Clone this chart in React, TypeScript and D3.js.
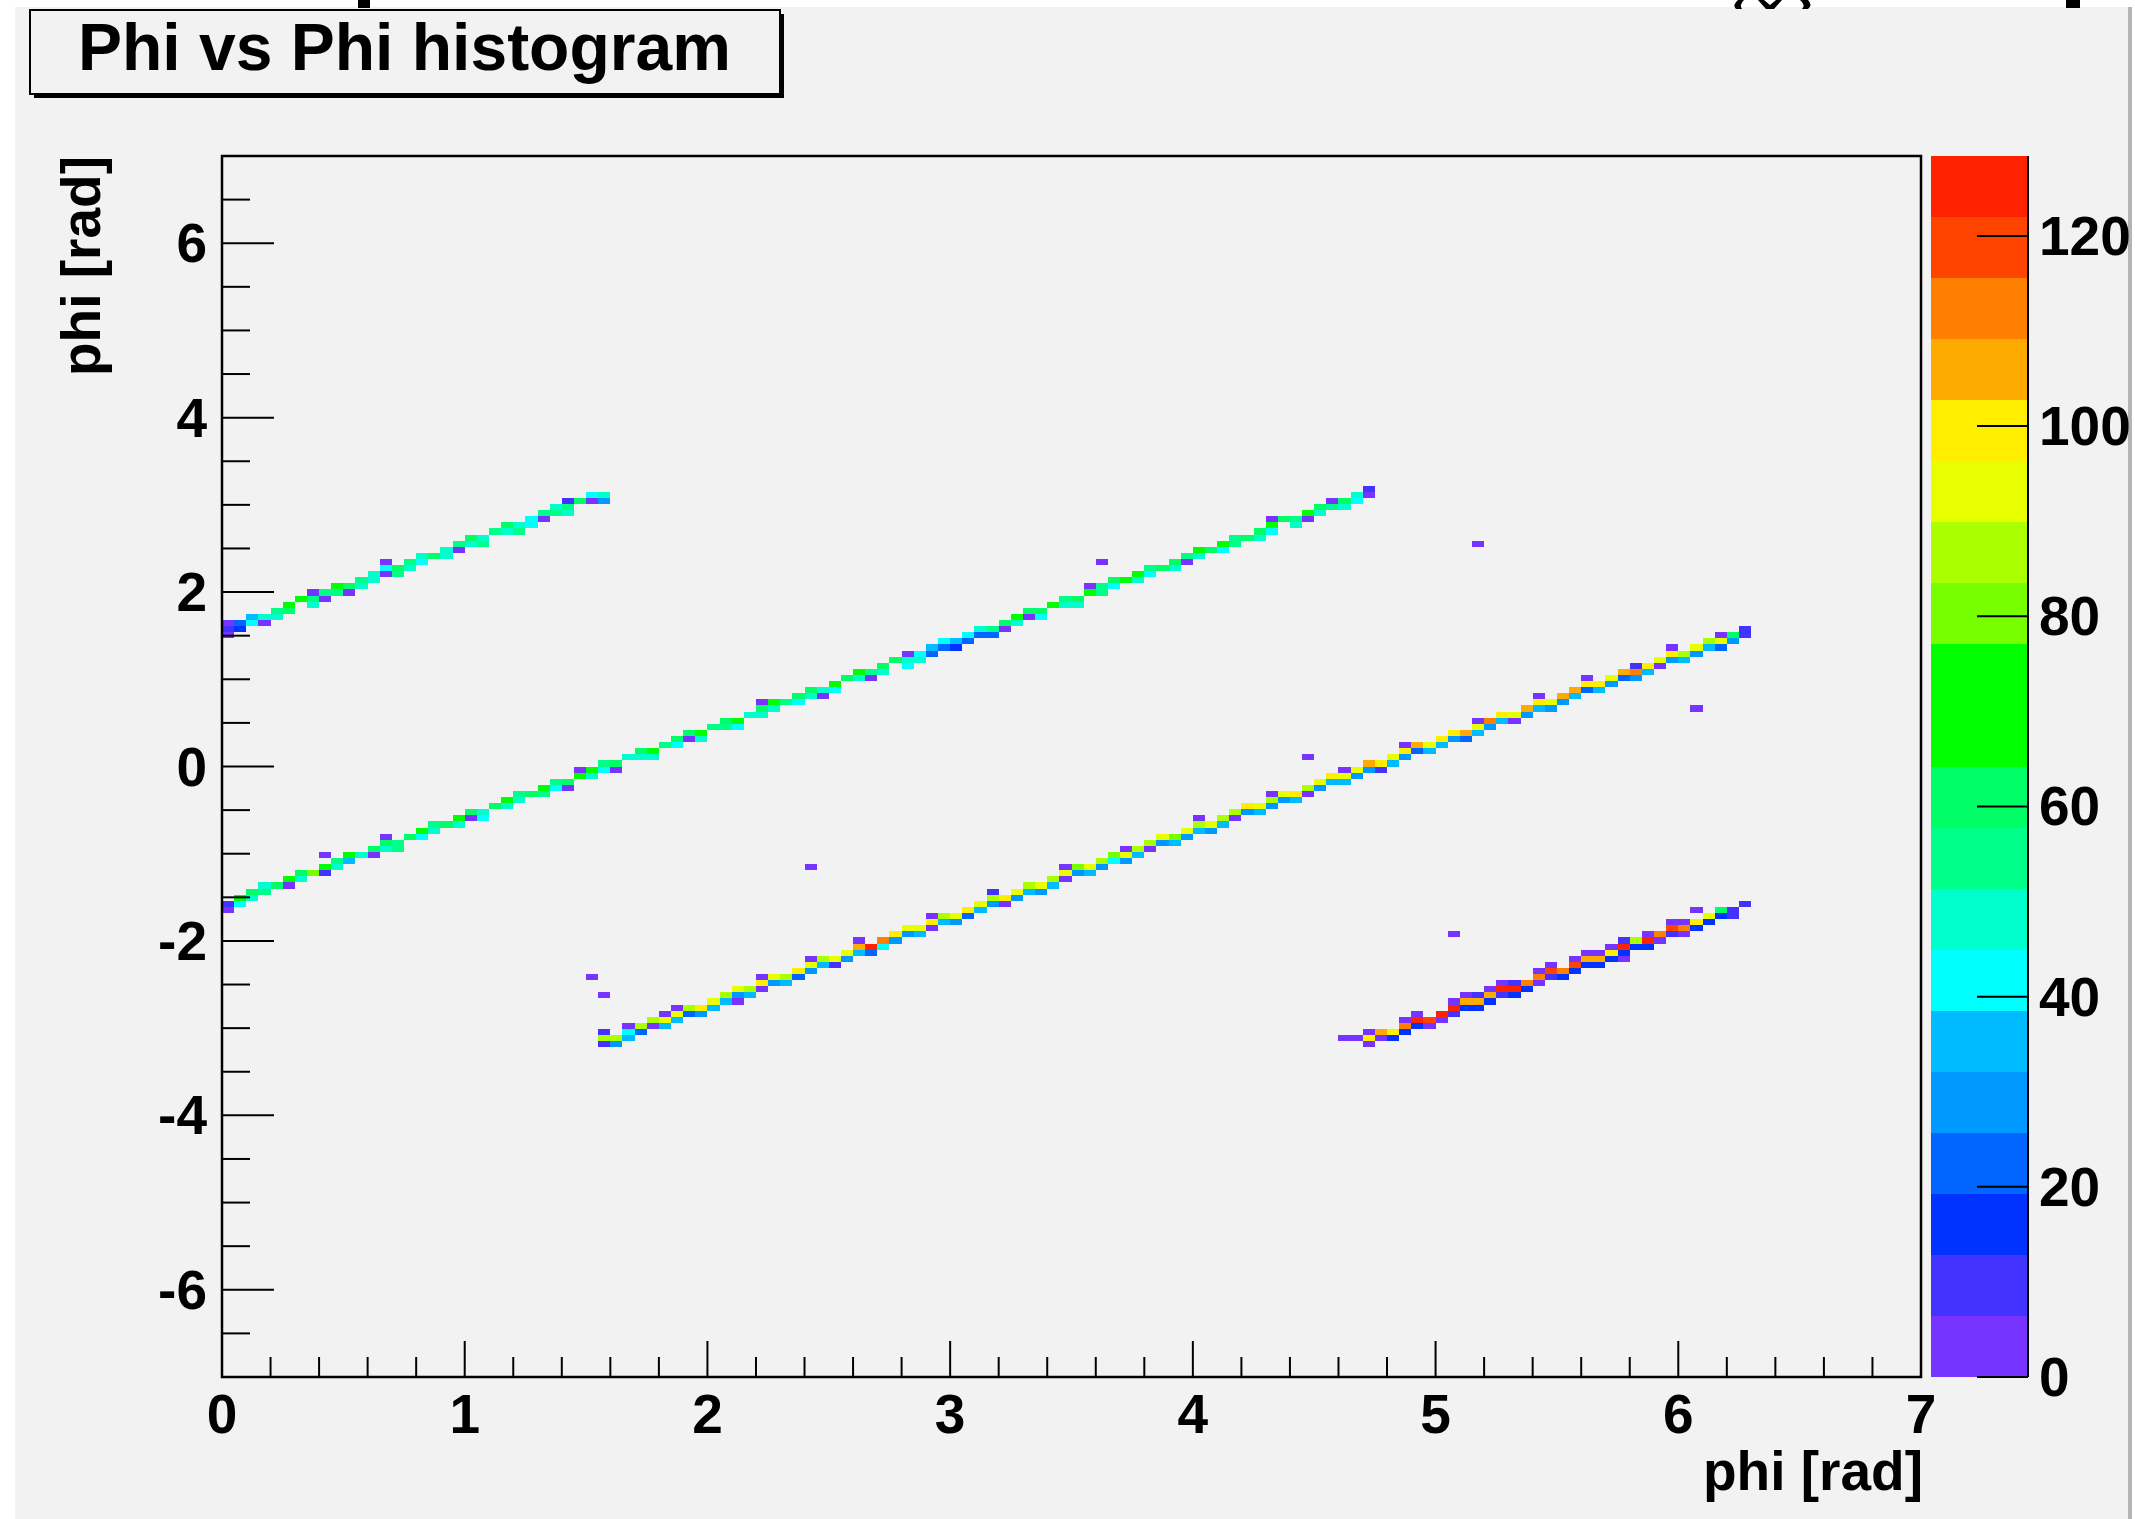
import React from "react";
import * as d3 from "d3";

// ---------- axes / binning ----------
const X_DOMAIN: [number, number] = [0, 7];
const Y_DOMAIN: [number, number] = [-7, 7];
const X_BIN = 0.05;
const Y_BIN = 0.07;
const Z_MAX = 128.4;
const N_LEVELS = 20;

const xTickLabels = [0, 1, 2, 3, 4, 5, 6, 7];
const yTickLabels = [-6, -4, -2, 0, 2, 4, 6];
const zTickLabels = [0, 20, 40, 60, 80, 100, 120];

const levelColors = [
  "#7733ff", "#4433ff", "#0033ff", "#0066ff", "#0099ff",
  "#00bbff", "#00ffff", "#00ffcc", "#00ff88", "#00ff66",
  "#00ff00", "#00ff00", "#77ff00", "#aaff00", "#e8ff00",
  "#ffee00", "#ffaa00", "#ff8000", "#ff4400", "#ff2200",
];

// ---------- band 1 : y = x + pi/2 ----------
const seg1StartCol = 0;
const seg1Offset = Math.PI / 2;
const seg1Main = [8, 22, 36, 48, 55, 66, 72, 56, 52, 68, 60, 55, 50, 42, 60, 55, 50, 58, 45, 52, 60, 47, 55, 62, 50, 44, 57, 48, 53, 60, 42, 46];
const seg1Below = [6, 14, 40, 4, 50, 58, 0, 48, 6, 55, 5, 50, 46, 4, 52, 48, 44, 0, 50, 6, 46, 52, 0, 48, 56, 40, 5, 52, 45, 0, 4, 30];
const seg1Above = [5, 0, 0, 0, 0, 0, 0, 5, 0, 0, 0, 0, 0, 5, 0, 0, 0, 0, 0, 0, 0, 0, 0, 0, 0, 0, 0, 0, 7, 0, 0, 0];

// ---------- band 2 : y = x - pi/2 ----------
const seg2StartCol = 0;
const seg2Offset = -Math.PI / 2;
const seg2Main = [
  9, 66, 58, 50, 60, 66, 58, 80, 70, 56,
  67, 50, 62, 64, 55, 63, 68, 52, 60, 66,
  58, 50, 64, 70, 55, 61, 67, 52, 59, 65,
  72, 57, 63, 49, 61, 68, 54, 63, 58, 70,
  52, 61, 66, 48, 60, 67, 55, 63, 58, 51,
  65, 60, 68, 53, 59, 63, 50, 44, 38, 42,
  36, 40, 45, 55, 61, 66, 58, 63, 69, 55,
  61, 67, 52, 60, 65, 70, 57, 63, 59, 52,
  66, 61, 68, 55, 63, 58, 67, 60, 52, 65,
  61, 56, 63, 50, 12,
];
const seg2Below = [
  6, 40, 48, 52, 0, 5, 45, 0, 7, 50,
  38, 0, 4, 46, 52, 0, 44, 50, 0, 48,
  6, 42, 0, 50, 46, 0, 52, 40, 5, 0,
  48, 44, 5, 0, 50, 46, 0, 42, 6, 48,
  0, 52, 44, 0, 46, 50, 0, 40, 48, 5,
  44, 0, 50, 4, 46, 0, 42, 48, 20, 24,
  18, 22, 20, 24, 5, 48, 6, 44, 0, 50,
  46, 0, 52, 40, 0, 48, 44, 0, 50, 5,
  46, 0, 42, 52, 0, 48, 44, 0, 50, 4,
  46, 0, 48, 40, 3,
];
const seg2Above = [
  0, 0, 0, 0, 0, 0, 0, 0, 0, 0,
  0, 0, 0, 5, 0, 0, 0, 0, 0, 0,
  0, 0, 0, 0, 0, 0, 0, 0, 0, 6,
  0, 0, 0, 0, 0, 0, 0, 0, 0, 0,
  0, 0, 0, 0, 4, 0, 0, 0, 0, 0,
  0, 0, 0, 0, 0, 0, 5, 0, 0, 0,
  0, 0, 0, 0, 0, 0, 0, 0, 0, 0,
  0, 6, 0, 0, 0, 0, 0, 0, 0, 0,
  0, 0, 0, 0, 0, 0, 5, 0, 0, 0,
  0, 6, 0, 0, 0,
];

// ---------- band 3 : y = x - 3pi/2 ----------
const seg3StartCol = 31;
const seg3Offset = -1.5 * Math.PI;
const seg3Main = [
  86, 84, 40, 84, 88, 96, 94, 85, 97, 92,
  88, 95, 84, 98, 90, 86, 100, 93, 88, 96,
  91, 104, 122, 110, 98, 96, 90, 99, 87, 94,
  100, 92, 86, 97, 90, 85, 94, 88, 96, 82,
  90, 86, 80, 92, 84, 88, 95, 82, 90, 86,
  93, 84, 88, 97, 90, 86, 92, 99, 88, 94,
  101, 95, 90, 104, 98, 92, 100, 106, 96, 102,
  98, 105, 94, 110, 100, 96, 106, 99, 92, 104,
  108, 97, 101, 94, 106, 112, 98, 92, 100, 88,
  95, 84, 90, 62, 12,
];
const seg3Below = [
  12, 30, 36, 24, 6, 36, 34, 22, 30, 38,
  34, 26, 36, 6, 30, 38, 24, 32, 36, 8,
  28, 36, 22, 40, 30, 26, 34, 5, 36, 30,
  24, 38, 32, 6, 30, 36, 28, 34, 5, 32,
  36, 30, 40, 28, 34, 6, 32, 38, 30, 36,
  28, 34, 5, 30, 38, 32, 26, 36, 6, 30,
  34, 38, 28, 32, 8, 36, 30, 24, 34, 38,
  30, 22, 36, 28, 34, 6, 32, 38, 26, 30,
  36, 24, 34, 30, 22, 28, 38, 6, 30, 34,
  28, 36, 24, 30, 8,
];
const seg3Above = [
  7, 0, 6, 0, 0, 5, 6, 0, 0, 0,
  0, 0, 0, 5, 0, 0, 0, 4, 0, 0,
  0, 6, 0, 0, 0, 0, 0, 5, 0, 0,
  0, 0, 7, 0, 0, 0, 0, 0, 4, 0,
  0, 0, 0, 5, 0, 0, 0, 0, 0, 6,
  0, 0, 0, 0, 0, 5, 0, 0, 0, 0,
  0, 6, 0, 0, 0, 0, 4, 0, 0, 0,
  0, 0, 5, 0, 0, 0, 0, 6, 0, 0,
  0, 5, 0, 0, 0, 7, 0, 0, 4, 0,
  0, 0, 5, 0, 0,
];

// ---------- band 4 : y = x - 5pi/2 ----------
const seg4StartCol = 94;
const seg4Offset = -2.5 * Math.PI;
const seg4Main = [100, 106, 100, 110, 124, 118, 126, 124, 108, 106, 108, 122, 124, 112, 110, 118, 114, 120, 106, 106, 98, 124, 86, 124, 110, 118, 112, 100, 92, 62, 12, 10];
const seg4Below = [5, 5, 16, 16, 16, 5, 5, 10, 14, 14, 16, 10, 14, 16, 6, 12, 14, 16, 14, 14, 16, 16, 14, 16, 6, 8, 5, 16, 14, 14, 8, 0];
const seg4Above = [6, 0, 0, 6, 5, 0, 0, 5, 6, 7, 5, 6, 8, 0, 5, 6, 0, 5, 5, 6, 5, 7, 0, 6, 0, 5, 6, 0, 0, 0, 0, 0];

// ---------- isolated cells (x, y, count) ----------
const isolatedX = [5.16, 6.06, 3.61, 4.47, 2.42, 1.53, 1.58, 0.41, 5.07, 5.76, 6.06, 4.63, 4.68, 2.1];
const isolatedY = [2.58, 0.68, 2.31, 0.11, -1.15, -2.42, -2.61, -0.98, -1.95, -2.2, -1.63, -3.12, -3.12, -2.7];
const isolatedN = [4, 3, 5, 5, 6, 4, 5, 4, 6, 5, 6, 3, 4, 5];

type Cell = { col: number; row: number; n: number };

function bandCells(start: number, offset: number, main: number[], below: number[], above: number[]): Cell[] {
  const out: Cell[] = [];
  main.forEach((n, i) => {
    const col = start + i;
    const xc = (col + 0.5) * X_BIN;
    const row = Math.floor((xc + offset - Y_DOMAIN[0]) / Y_BIN);
    const entries: [number, number][] = [
      [row, n],
      [row - 1, below[i] ?? 0],
      [row + 1, above[i] ?? 0],
    ];
    entries.forEach(([r, v]) => {
      if (v > 0) out.push({ col, row: r, n: v });
    });
  });
  return out;
}

const FONT = "'Liberation Sans', Arial, Helvetica, sans-serif";

export default function App() {
  const W = 2135;
  const H = 1519;
  const plot = { left: 222, right: 1921, top: 156, bottom: 1377 };
  const bar = { left: 1931, right: 2028 };

  const xScale = d3.scaleLinear().domain(X_DOMAIN).range([plot.left, plot.right]);
  const yScale = d3.scaleLinear().domain(Y_DOMAIN).range([plot.bottom, plot.top]);
  const zScale = d3.scaleLinear().domain([0, Z_MAX]).range([plot.bottom, plot.top]);
  const colorOf = (n: number) =>
    levelColors[Math.max(0, Math.min(N_LEVELS - 1, Math.floor(n / (Z_MAX / N_LEVELS))))];

  const cells: Cell[] = [
    ...bandCells(seg1StartCol, seg1Offset, seg1Main, seg1Below, seg1Above),
    ...bandCells(seg2StartCol, seg2Offset, seg2Main, seg2Below, seg2Above),
    ...bandCells(seg3StartCol, seg3Offset, seg3Main, seg3Below, seg3Above),
    ...bandCells(seg4StartCol, seg4Offset, seg4Main, seg4Below, seg4Above),
    ...isolatedX.map((x, i) => ({
      col: Math.floor(x / X_BIN),
      row: Math.floor((isolatedY[i] - Y_DOMAIN[0]) / Y_BIN),
      n: isolatedN[i],
    })),
  ];

  const xTicks = d3.range(0, 7.0001, 0.2).filter((v) => v > 0.001 && v < 6.999);
  const yTicks = d3.range(-7, 7.0001, 0.5).filter((v) => v > -6.999 && v < 6.999);
  const isMajorX = (v: number) => Math.abs(v - Math.round(v)) < 1e-6;
  const isMajorY = (v: number) => Math.abs(v / 2 - Math.round(v / 2)) < 1e-6;
  const levels = d3.range(N_LEVELS + 1).map((i) => (i * Z_MAX) / N_LEVELS);

  return (
    <div style={{ position: "absolute", left: 0, top: 0 }}>
      <svg width={W} height={H} viewBox={`0 0 ${W} ${H}`} style={{ display: "block" }}>
        <rect x={0} y={0} width={W} height={H} fill="#ffffff" />
        <rect x={15} y={7} width={2113} height={H - 7} fill="#f2f2f2" />
        <rect x={2128} y={7} width={4} height={H - 7} fill="#b4b4b4" />

        {/* cut-off glyph fragments at the very top */}
        <g fill="#000">
          <rect x={358} y={0} width={12} height={8} />
          <path d="M1738,0 Q1732,5 1736,9 L1742,9 Q1739,5 1744,0 Z" />
          <path d="M1758,0 L1766,9 L1774,9 L1782,0 L1776,0 L1770,5 L1764,0 Z" />
          <path d="M1800,0 Q1806,5 1802,9 L1808,9 Q1813,5 1808,0 Z" />
          <rect x={2066} y={0} width={14} height={8} />
        </g>

        {/* title box */}
        <rect x={34} y={14} width={750} height={84} fill="#000" />
        <rect x={30} y={10} width={750} height={84} fill="#f2f2f2" stroke="#000" strokeWidth={2} />
        <text x={78} y={70} fontFamily={FONT} fontWeight="bold" fontSize={66} fill="#000">
          Phi vs Phi histogram
        </text>

        {/* histogram cells */}
        <g shapeRendering="crispEdges">
          {cells.map((c, i) => {
            const x0 = xScale(c.col * X_BIN);
            const x1 = xScale((c.col + 1) * X_BIN);
            const yTop = yScale(Y_DOMAIN[0] + (c.row + 1) * Y_BIN);
            const yBot = yScale(Y_DOMAIN[0] + c.row * Y_BIN);
            return <rect key={i} x={x0} y={yTop} width={x1 - x0} height={yBot - yTop} fill={colorOf(c.n)} />;
          })}
        </g>

        {/* frame */}
        <rect
          x={plot.left}
          y={plot.top}
          width={plot.right - plot.left}
          height={plot.bottom - plot.top}
          fill="none"
          stroke="#000"
          strokeWidth={2.5}
        />

        {/* ticks */}
        <g stroke="#000" strokeWidth={2}>
          {xTicks.map((v, i) => (
            <line key={i} x1={xScale(v)} x2={xScale(v)} y1={plot.bottom} y2={plot.bottom - (isMajorX(v) ? 36 : 20)} />
          ))}
          {yTicks.map((v, i) => (
            <line key={i} x1={plot.left} x2={plot.left + (isMajorY(v) ? 52 : 28)} y1={yScale(v)} y2={yScale(v)} />
          ))}
        </g>
        <g fontFamily={FONT} fontWeight="bold" fontSize={55} fill="#000">
          {xTickLabels.map((v) => (
            <text key={v} x={xScale(v)} y={1433} textAnchor="middle">
              {v}
            </text>
          ))}
          {yTickLabels.map((v) => (
            <text key={v} x={207} y={yScale(v) + 19} textAnchor="end">
              {v}
            </text>
          ))}
          <text x={plot.right + 2} y={1490} textAnchor="end">
            phi [rad]
          </text>
          <text transform={`translate(100, ${plot.top}) rotate(-90)`} textAnchor="end">
            phi [rad]
          </text>
        </g>

        {/* colour bar */}
        <g shapeRendering="crispEdges">
          {levelColors.map((c, i) => (
            <rect
              key={i}
              x={bar.left}
              y={zScale(levels[i + 1])}
              width={bar.right - bar.left}
              height={zScale(levels[i]) - zScale(levels[i + 1])}
              fill={c}
            />
          ))}
        </g>
        <line x1={bar.right} x2={bar.right} y1={plot.top} y2={plot.bottom} stroke="#000" strokeWidth={2} />
        <g stroke="#000" strokeWidth={2}>
          {zTickLabels.map((v) => (
            <line key={v} x1={bar.right - 51} x2={bar.right} y1={zScale(v)} y2={zScale(v)} />
          ))}
        </g>
        <g fontFamily={FONT} fontWeight="bold" fontSize={55} fill="#000">
          {zTickLabels.map((v) => (
            <text key={v} x={2039} y={zScale(v) + 19}>
              {v}
            </text>
          ))}
        </g>
      </svg>
    </div>
  );
}
